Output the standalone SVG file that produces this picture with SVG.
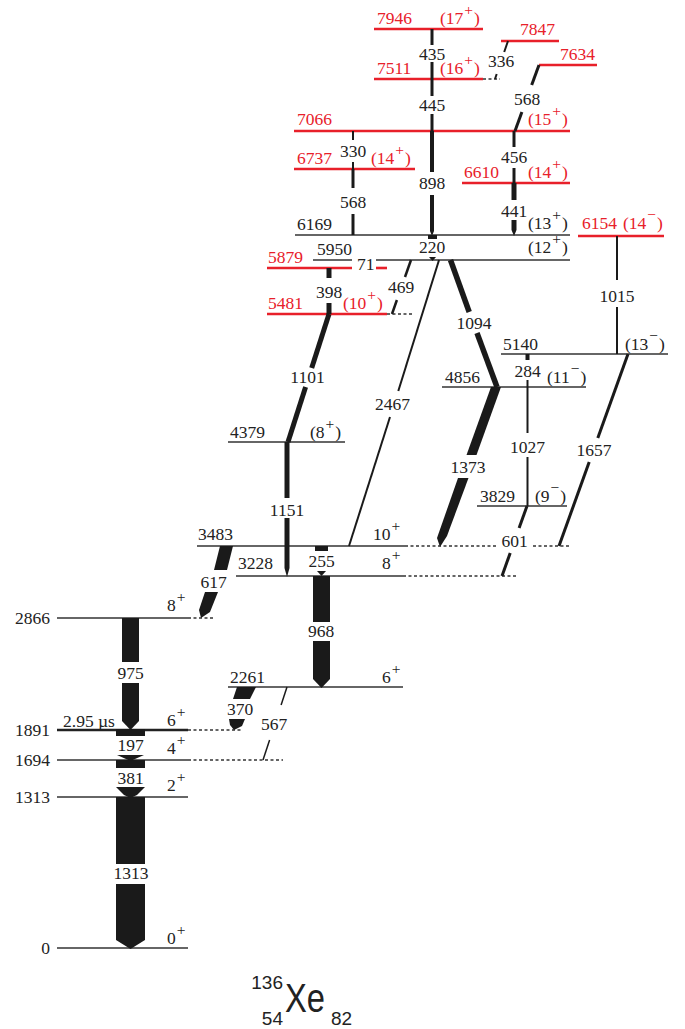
<svg xmlns="http://www.w3.org/2000/svg" width="685" height="1029" viewBox="0 0 685 1029">
<style>
.lv{stroke:#333;stroke-width:1.5;fill:none}
.lk{stroke:#222;stroke-width:2.6;fill:none}
.lr{stroke:#e8202a;stroke-width:2.6;fill:none}
.dt{stroke:#333;stroke-width:1.3;stroke-dasharray:3 2.5;fill:none}
.t{font-family:"Liberation Serif","Times New Roman",serif;font-size:17.5px;fill:#222}
.r{fill:#e8202a}
.e{text-anchor:end}
.m{text-anchor:middle}
.s{font-size:15.5px}
.g{fill:#1a1a1a;stroke:none}
.gl{stroke:#1a1a1a;fill:none;stroke-linecap:butt}
.nuc{font-family:"Liberation Sans",Arial,sans-serif;fill:#222}
</style>
<rect width="685" height="1029" fill="#fff"/>

<g id="levels">
<g id="lv-0"><line class="lv" x1="57" y1="948" x2="188" y2="948"/><text class="t e" x="50" y="954">0</text><text class="t" x="167" y="944">0<tspan class="s" dx="1" dy="-9">+</tspan></text></g>
<g id="lv-1313"><line class="lv" x1="57" y1="797" x2="188" y2="797"/><text class="t e" x="50" y="803">1313</text><text class="t" x="167" y="791">2<tspan class="s" dx="1" dy="-9">+</tspan></text></g>
<g id="lv-1694"><line class="lv" x1="57" y1="760" x2="188" y2="760"/><line class="dt" x1="188" y1="760" x2="283" y2="760"/><text class="t e" x="50" y="766">1694</text><text class="t" x="167" y="754">4<tspan class="s" dx="1" dy="-9">+</tspan></text></g>
<g id="lv-1891"><line class="lk" x1="57" y1="730" x2="188" y2="730"/><line class="dt" x1="188" y1="730" x2="243" y2="730"/><text class="t e" x="50" y="736">1891</text><text class="t" x="63" y="727">2.95 µs</text><text class="t" x="167" y="726">6<tspan class="s" dx="1" dy="-9">+</tspan></text></g>
<g id="lv-2261"><line class="lv" x1="228" y1="687" x2="403" y2="687"/><text class="t" x="230" y="683">2261</text><text class="t" x="382" y="683">6<tspan class="s" dx="1" dy="-9">+</tspan></text></g>
<g id="lv-2866"><line class="lv" x1="57" y1="618" x2="188" y2="618"/><line class="dt" x1="188" y1="618" x2="213" y2="618"/><text class="t e" x="50" y="624">2866</text><text class="t" x="167" y="611">8<tspan class="s" dx="1" dy="-9">+</tspan></text></g>
<g id="lv-3228"><line class="lv" x1="236" y1="576" x2="403" y2="576"/><line class="dt" x1="403" y1="576" x2="518" y2="576"/><text class="t" x="238" y="569">3228</text><text class="t" x="382" y="569">8<tspan class="s" dx="1" dy="-9">+</tspan></text></g>
<g id="lv-3483"><line class="lv" x1="197" y1="546" x2="405" y2="546"/><line class="dt" x1="405" y1="546" x2="496" y2="546"/><line class="dt" x1="533" y1="546" x2="570" y2="546"/><text class="t" x="198" y="540">3483</text><text class="t" x="373" y="540">10<tspan class="s" dx="1" dy="-9">+</tspan></text></g>
<g id="lv-3829"><line class="lv" x1="477" y1="506" x2="567" y2="506"/><text class="t" x="480" y="502">3829</text><text class="t" x="535" y="502">(9<tspan class="s" dx="1" dy="-9">−</tspan><tspan dy="9" dx="1">)</tspan></text></g>
<g id="lv-4379"><line class="lv" x1="228" y1="442" x2="345" y2="442"/><text class="t" x="230" y="438">4379</text><text class="t" x="310" y="438">(8<tspan class="s" dx="1" dy="-9">+</tspan><tspan dy="9" dx="1">)</tspan></text></g>
<g id="lv-4856"><line class="lv" x1="442" y1="387" x2="586" y2="387"/><text class="t" x="445" y="383">4856</text><text class="t" x="547" y="383">(11<tspan class="s" dx="1" dy="-9">−</tspan><tspan dy="9" dx="1">)</tspan></text></g>
<g id="lv-5140"><line class="lv" x1="501" y1="354" x2="668" y2="354"/><text class="t" x="503" y="350">5140</text><text class="t" x="625" y="350">(13<tspan class="s" dx="1" dy="-9">−</tspan><tspan dy="9" dx="1">)</tspan></text></g>
<g id="lv-5481"><line class="lr" x1="267" y1="314" x2="387" y2="314"/><line class="dt" x1="387" y1="314" x2="413" y2="314"/><text class="t r" x="268" y="309">5481</text><text class="t r" x="343" y="309">(10<tspan class="s" dx="1" dy="-9">+</tspan><tspan dy="9" dx="1">)</tspan></text></g>
<g id="lv-5879"><line class="lr" x1="267" y1="268" x2="352" y2="268"/><line class="lr" x1="376" y1="268" x2="387" y2="268"/><text class="t r" x="268" y="263">5879</text></g>
<g id="lv-5950"><line class="lv" x1="313" y1="260" x2="352" y2="260"/><line class="lv" x1="376" y1="260" x2="570" y2="260"/><text class="t" x="317" y="255">5950</text><text class="t" x="528" y="253">(12<tspan class="s" dx="1" dy="-9">+</tspan><tspan dy="9" dx="1">)</tspan></text></g>
<g id="lv-6154"><line class="lr" x1="578" y1="236" x2="664" y2="236"/><text class="t r" x="582" y="229">6154</text><text class="t r" x="623" y="229">(14<tspan class="s" dx="1" dy="-9">−</tspan><tspan dy="9" dx="1">)</tspan></text></g>
<g id="lv-6169"><line class="lv" x1="295" y1="235" x2="570" y2="235"/><text class="t" x="297" y="230">6169</text><text class="t" x="528" y="229">(13<tspan class="s" dx="1" dy="-9">+</tspan><tspan dy="9" dx="1">)</tspan></text></g>
<g id="lv-6610"><line class="lr" x1="462" y1="183" x2="570" y2="183"/><text class="t r" x="464" y="178">6610</text><text class="t r" x="528" y="178">(14<tspan class="s" dx="1" dy="-9">+</tspan><tspan dy="9" dx="1">)</tspan></text></g>
<g id="lv-6737"><line class="lr" x1="294" y1="169" x2="415" y2="169"/><text class="t r" x="297" y="164">6737</text><text class="t r" x="371" y="164">(14<tspan class="s" dx="1" dy="-9">+</tspan><tspan dy="9" dx="1">)</tspan></text></g>
<g id="lv-7066"><line class="lr" x1="294" y1="131" x2="570" y2="131"/><text class="t r" x="297" y="125">7066</text><text class="t r" x="528" y="125">(15<tspan class="s" dx="1" dy="-9">+</tspan><tspan dy="9" dx="1">)</tspan></text></g>
<g id="lv-7511"><line class="lr" x1="374" y1="79" x2="483" y2="79"/><line class="dt" x1="483" y1="79" x2="500" y2="79"/><text class="t r" x="377" y="74">7511</text><text class="t r" x="440" y="74">(16<tspan class="s" dx="1" dy="-9">+</tspan><tspan dy="9" dx="1">)</tspan></text></g>
<g id="lv-7634"><line class="lr" x1="539" y1="65" x2="597" y2="65"/><text class="t r" x="560" y="60">7634</text></g>
<g id="lv-7847"><line class="lr" x1="501" y1="41" x2="559" y2="41"/><text class="t r" x="520" y="35">7847</text></g>
<g id="lv-7946"><line class="lr" x1="374" y1="29" x2="483" y2="29"/><text class="t r" x="377" y="24">7946</text><text class="t r" x="440" y="24">(17<tspan class="s" dx="1" dy="-9">+</tspan><tspan dy="9" dx="1">)</tspan></text></g>
</g>

<g id="connectors">
<rect class="g" x="116" y="797" width="29" height="67"/>
<polygon class="g" points="116,884 145,884 145,940 130.5,949 116,940"/>
<text class="t m" x="131" y="879">1313</text>
<rect class="g" x="116" y="760" width="29" height="8"/>
<polygon class="g" points="116,787 145,787 137,795 130.5,798 124,795"/>
<text class="t m" x="130.5" y="784">381</text>
<rect class="g" x="116" y="729" width="29" height="7"/>
<polygon class="g" points="117,755 144,755 130.5,761"/>
<text class="t m" x="130.5" y="751">197</text>
<rect class="g" x="122" y="618" width="17" height="44"/>
<polygon class="g" points="122,683 139,683 139,721 130.5,730 122,721"/>
<text class="t m" x="130.5" y="679">975</text>
<rect class="g" x="313" y="576" width="17" height="46"/>
<polygon class="g" points="313,641 330,641 330,679 321.5,688 313,679"/>
<text class="t m" x="321" y="637">968</text>
<rect class="g" x="315" y="546" width="13" height="5"/>
<polygon class="g" points="317,571 326,571 321.5,576"/>
<text class="t m" x="321.5" y="567">255</text>
<rect class="g" x="428" y="235" width="9" height="4"/>
<polygon class="g" points="429,257 436,257 432.5,261"/>
<text class="t m" x="432" y="253">220</text>
<text class="t" x="357" y="270">71</text>
<rect class="g" x="430" y="131" width="4" height="41"/>
<polygon class="g" points="430,195 434,195 434,231 432,236 430,231"/>
<text class="t m" x="432" y="189">898</text>
<rect class="g" x="430.5" y="79" width="3" height="17"/>
<rect class="g" x="430.5" y="114" width="3" height="17"/>
<text class="t m" x="432" y="111">445</text>
<rect class="g" x="430.5" y="29" width="3" height="16"/>
<rect class="g" x="430.5" y="62" width="3" height="17"/>
<text class="t m" x="432" y="60">435</text>
<line class="gl" stroke-width="2" x1="508" y1="41" x2="504.2" y2="52"/>
<line class="gl" stroke-width="2" x1="496.7" y1="74" x2="495" y2="79"/>
<text class="t m" x="501" y="67">336</text>
<line class="gl" stroke-width="3" x1="539" y1="65" x2="531.7" y2="85"/>
<line class="gl" stroke-width="3" x1="521.9" y1="112" x2="515" y2="131"/>
<text class="t m" x="527" y="105">568</text>
<line class="gl" stroke-width="3" x1="514" y1="131" x2="514" y2="147"/>
<line class="gl" stroke-width="3" x1="514" y1="168" x2="514" y2="183"/>
<text class="t m" x="514" y="163">456</text>
<rect class="g" x="511.5" y="183" width="5" height="17"/>
<polygon class="g" points="511.5,220 516.5,220 516.5,230 514,236 511.5,230"/>
<text class="t m" x="514" y="217">441</text>
<line class="gl" stroke-width="2" x1="353" y1="131" x2="353" y2="140"/>
<line class="gl" stroke-width="2" x1="353" y1="162" x2="353" y2="169"/>
<text class="t m" x="353" y="157">330</text>
<line class="gl" stroke-width="3" x1="353" y1="169" x2="353" y2="188"/>
<line class="gl" stroke-width="3" x1="353" y1="214" x2="353" y2="235"/>
<text class="t m" x="353" y="208">568</text>
<line class="gl" stroke-width="5" x1="329" y1="268" x2="329" y2="278"/>
<line class="gl" stroke-width="5" x1="329" y1="303" x2="329" y2="314"/>
<text class="t m" x="329" y="298">398</text>
<line class="gl" stroke-width="2.5" x1="411" y1="260" x2="405" y2="277"/>
<line class="gl" stroke-width="2.5" x1="396.9" y1="300" x2="392" y2="314"/>
<text class="t m" x="401" y="293">469</text>
<line class="gl" stroke-width="5" x1="329" y1="314" x2="311.7" y2="368"/>
<line class="gl" stroke-width="5" x1="305.6" y1="387" x2="288" y2="442"/>
<text class="t m" x="307.5" y="383">1101</text>
<line class="gl" stroke-width="5" x1="287" y1="442" x2="287" y2="498"/>
<polygon class="g" points="284.5,518 289.5,518 289.5,568 287,577 284.5,568"/>
<text class="t m" x="287" y="516">1151</text>
<line class="gl" stroke-width="2" x1="439" y1="260" x2="398.3" y2="391"/>
<line class="gl" stroke-width="2" x1="390" y1="417" x2="349" y2="546"/>
<text class="t m" x="392.5" y="410">2467</text>
<line class="gl" stroke-width="5.5" x1="450.5" y1="260" x2="469.2" y2="312"/>
<line class="gl" stroke-width="5.5" x1="477" y1="333" x2="497" y2="387"/>
<text class="t m" x="474" y="329">1094</text>
<polygon class="g" points="491,387 501,387 476.5,455 466.5,455"/>
<polygon class="g" points="458,478 468.5,478 447,536 440,547 437,538"/>
<text class="t m" x="468" y="473">1373</text>
<line class="gl" stroke-width="2" x1="617" y1="236" x2="617" y2="280"/>
<line class="gl" stroke-width="2" x1="617" y1="307" x2="617" y2="354"/>
<text class="t m" x="617" y="302">1015</text>
<rect class="g" x="525.5" y="354" width="4" height="6"/>
<line class="gl" stroke-width="2" x1="527.5" y1="380" x2="527.5" y2="387"/>
<text class="t m" x="527.5" y="377">284</text>
<line class="gl" stroke-width="2" x1="527.5" y1="387" x2="527.5" y2="433"/>
<line class="gl" stroke-width="2" x1="527.5" y1="457" x2="527.5" y2="506"/>
<text class="t m" x="527.5" y="453">1027</text>
<line class="gl" stroke-width="3" x1="628" y1="354" x2="597.8" y2="438"/>
<line class="gl" stroke-width="3" x1="589.2" y1="462" x2="559" y2="546"/>
<text class="t m" x="594" y="456">1657</text>
<line class="gl" stroke-width="3" x1="527" y1="506" x2="519.1" y2="528"/>
<line class="gl" stroke-width="3" x1="510.2" y1="553" x2="502" y2="576"/>
<text class="t m" x="514.5" y="547">601</text>
<polygon class="g" points="220,546 233,546 227,570 214,570"/>
<polygon class="g" points="205,592 218,592 210,612 201,618 199,610"/>
<text class="t m" x="213.5" y="588">617</text>
<polygon class="g" points="237,687 256,687 250,699 233,699"/>
<polygon class="g" points="229,719 245,719 242,726 234,730 230,725"/>
<text class="t m" x="240" y="715">370</text>
<line class="gl" stroke-width="1.5" x1="287" y1="687" x2="281.1" y2="705"/>
<line class="gl" stroke-width="1.5" x1="269.6" y1="740" x2="263" y2="760"/>
<text class="t m" x="274" y="730">567</text>
</g>

<g id="nuclide">
<text class="nuc" x="283" y="989" font-size="19" text-anchor="end">136</text>
<text class="nuc" x="283" y="1025" font-size="19" text-anchor="end">54</text>
<text class="nuc" x="285" y="1012" font-size="40" textLength="40" lengthAdjust="spacingAndGlyphs">Xe</text>
<text class="nuc" x="331" y="1025" font-size="19">82</text>
</g>
</svg>
